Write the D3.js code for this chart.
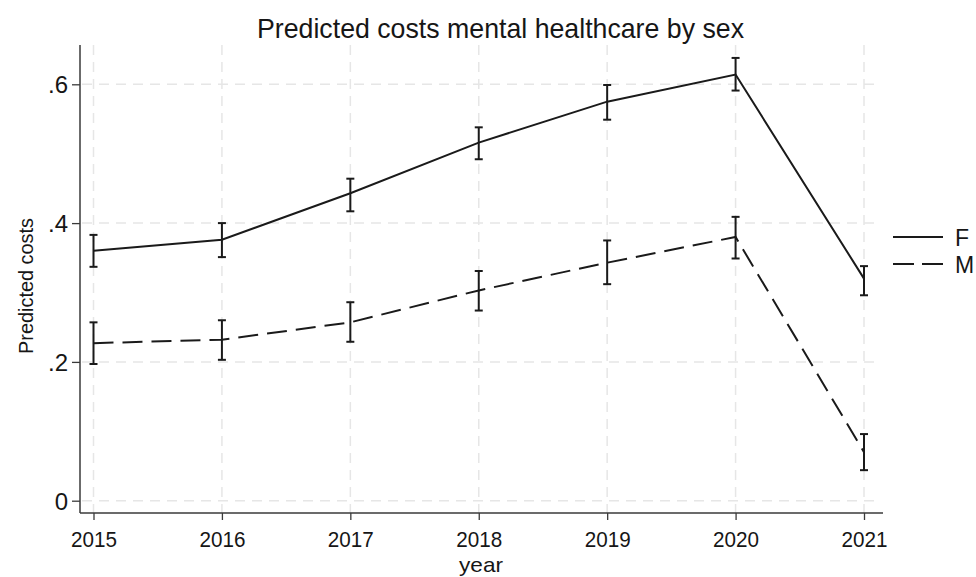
<!DOCTYPE html>
<html>
<head>
<meta charset="utf-8">
<script src="https://cdn.jsdelivr.net/npm/d3@7"></script>
<style>
  html, body { margin: 0; padding: 0; background: #fff; }
  svg { display: block; font-family: "Liberation Sans", Arial, sans-serif; }
</style>
</head>
<body>
<svg id="chart" width="976" height="577"></svg>
<script>
// Predicted mental healthcare costs per year, with confidence intervals
const years = [2015, 2016, 2017, 2018, 2019, 2020, 2021];
const yTicks = [0, 0.2, 0.4, 0.6];
const yTickLabels = ["0", ".2", ".4", ".6"];

const femaleMean  = [0.360, 0.376, 0.443, 0.516, 0.575, 0.614, 0.320];
const femaleLower = [0.337, 0.351, 0.417, 0.492, 0.549, 0.591, 0.296];
const femaleUpper = [0.383, 0.400, 0.464, 0.538, 0.599, 0.638, 0.338];

const maleMean  = [0.227, 0.232, 0.257, 0.303, 0.343, 0.380, 0.070];
const maleLower = [0.197, 0.203, 0.229, 0.274, 0.312, 0.349, 0.044];
const maleUpper = [0.257, 0.260, 0.286, 0.331, 0.375, 0.409, 0.096];

const seriesNames = ["F", "M"];

const series = [
  { name: seriesNames[0], mean: femaleMean, lo: femaleLower, hi: femaleUpper, dash: null },
  { name: seriesNames[1], mean: maleMean, lo: maleLower, hi: maleUpper, dash: "20,9" }
];

const svg = d3.select("#chart");
const plot = { left: 80, right: 883, top: 45, bottom: 513 };

const x = d3.scaleLinear().domain([2015, 2021]).range([93.5, 864]);
const y = d3.scaleLinear().domain([0, 0.6]).range([500.7, 84.3]);

const gridColor = "#e6e6e6";
const axisColor = "#3a3a3a";
const ink = "#1a1a1a";
const textColor = "#161616";

// dashed grid
const grid = svg.append("g");
grid.selectAll("line.h").data(yTicks).join("line")
  .attr("x1", plot.left + 2).attr("x2", plot.right - 3)
  .attr("y1", d => y(d)).attr("y2", d => y(d))
  .attr("stroke", gridColor).attr("stroke-width", 1.5)
  .attr("stroke-dasharray", "10,7");
grid.selectAll("line.v").data(years).join("line")
  .attr("x1", d => x(d)).attr("x2", d => x(d))
  .attr("y1", plot.top).attr("y2", plot.bottom)
  .attr("stroke", gridColor).attr("stroke-width", 1.5)
  .attr("stroke-dasharray", "10,7");

// y axis
const yAxis = d3.axisLeft(y).tickValues(yTicks)
  .tickFormat((d, i) => yTickLabels[i]).tickSize(8).tickPadding(4);
const yG = svg.append("g").attr("transform", `translate(${plot.left},0)`).call(yAxis);
yG.select(".domain").remove();
yG.append("line").attr("x1", 0).attr("x2", 0)
  .attr("y1", plot.top).attr("y2", plot.bottom).attr("stroke", axisColor).attr("stroke-width", 1.5);
yG.selectAll(".tick line").attr("stroke", axisColor).attr("stroke-width", 1.3);
yG.selectAll(".tick text").attr("fill", textColor).attr("font-size", 24)
  .attr("dy", null).attr("y", 8.5)
  .attr("font-family", "Liberation Sans, Arial, sans-serif");

// x axis
const xAxis = d3.axisBottom(x).tickValues(years).tickFormat(d3.format("d"))
  .tickSize(7).tickPadding(8);
const xG = svg.append("g").attr("transform", `translate(0,${plot.bottom})`).call(xAxis);
xG.select(".domain").remove();
xG.append("line").attr("x1", plot.left).attr("x2", plot.right)
  .attr("y1", 0).attr("y2", 0).attr("stroke", axisColor).attr("stroke-width", 1.5);
xG.selectAll(".tick line").attr("stroke", axisColor).attr("stroke-width", 1.3);
xG.selectAll(".tick text").attr("fill", textColor).attr("font-size", 22)
  .attr("dy", null).attr("y", 34)
  .attr("textLength", 46).attr("lengthAdjust", "spacingAndGlyphs")
  .attr("font-family", "Liberation Sans, Arial, sans-serif");

// axis titles and chart title
svg.append("text").attr("x", 481).attr("y", 572)
  .attr("text-anchor", "middle").attr("font-size", 21).attr("fill", textColor)
  .attr("textLength", 44).attr("lengthAdjust", "spacingAndGlyphs").text("year");
svg.append("text").attr("transform", `translate(33,286) rotate(-90)`)
  .attr("text-anchor", "middle").attr("font-size", 21).attr("fill", textColor)
  .attr("textLength", 136).attr("lengthAdjust", "spacingAndGlyphs").text("Predicted costs");
svg.append("text").attr("x", 500.5).attr("y", 38)
  .attr("text-anchor", "middle").attr("font-size", 28).attr("fill", textColor)
  .attr("textLength", 487).attr("lengthAdjust", "spacingAndGlyphs")
  .text("Predicted costs mental healthcare by sex");

// lines and confidence intervals
const line = d3.line().x((d, i) => x(years[i])).y(d => y(d));
const marks = svg.append("g");
series.forEach(s => {
  marks.append("path").datum(s.mean).attr("d", line)
    .attr("fill", "none").attr("stroke", ink).attr("stroke-width", 2)
    .attr("stroke-dasharray", s.dash);
  const bars = marks.append("g").selectAll("g").data(years).join("g");
  bars.append("line")
    .attr("x1", d => x(d)).attr("x2", d => x(d))
    .attr("y1", (d, i) => y(s.lo[i])).attr("y2", (d, i) => y(s.hi[i]))
    .attr("stroke", ink).attr("stroke-width", 2);
  ["lo", "hi"].forEach(k => {
    bars.append("line")
      .attr("x1", d => x(d) - 4).attr("x2", d => x(d) + 4)
      .attr("y1", (d, i) => y(s[k][i])).attr("y2", (d, i) => y(s[k][i]))
      .attr("stroke", ink).attr("stroke-width", 2);
  });
});

// legend
const legend = svg.append("g");
series.forEach((s, i) => {
  const ly = 237 + i * 27;
  legend.append("line").attr("x1", 893).attr("x2", 943)
    .attr("y1", ly).attr("y2", ly)
    .attr("stroke", ink).attr("stroke-width", 2)
    .attr("stroke-dasharray", s.dash ? "21,8" : null);
  legend.append("text").attr("x", 955).attr("y", ly + 8.5)
    .attr("font-size", 23).attr("fill", textColor).text(s.name);
});
</script>
</body>
</html>
